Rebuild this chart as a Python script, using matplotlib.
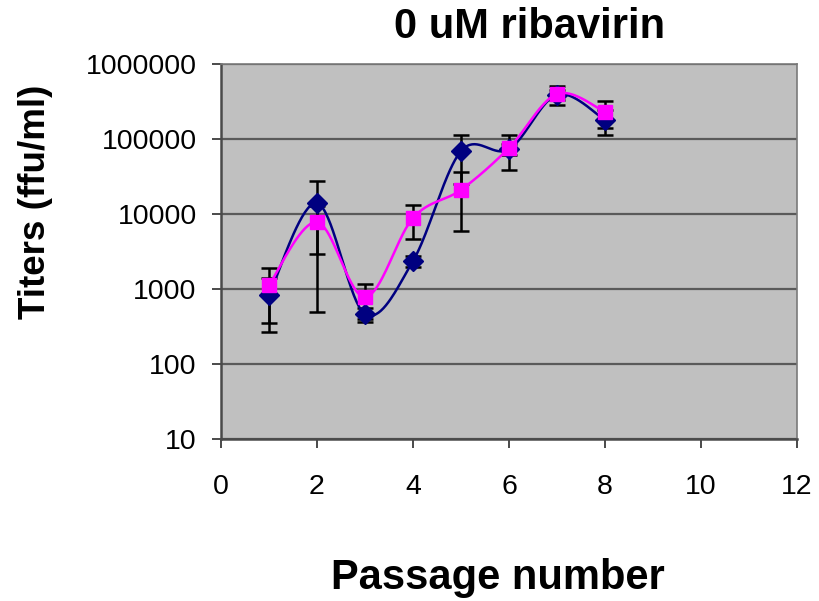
import numpy as np
import matplotlib
matplotlib.use('Agg')
import matplotlib.pyplot as plt
from matplotlib.ticker import FixedLocator, NullLocator

plt.rcParams['font.family'] = ['Liberation Sans', 'DejaVu Sans']

passage = [1, 2, 3, 4, 5, 6, 7, 8]

# titers (ffu/ml) and standard deviations for the two replicates
titer_a = [830, 14000, 464, 2360, 69000, 73000, 390000, 179000]
sd_a = [560, 13500, 100, 400, 44000, 12000, 60000, 65000]
titer_b = [1130, 7800, 780, 8850, 21000, 76000, 398000, 229000]
sd_b = [775, 4870, 386, 4200, 15000, 37000, 111000, 90000]

yticks = [10, 100, 1000, 10000, 100000, 1000000]
xticks = [0, 2, 4, 6, 8, 10, 12]


def smooth(x, y, n=40):
    # Catmull-Rom style smoothing in log space, the way spreadsheet "smoothed lines" look
    x = np.asarray(x, float)
    ly = np.log10(np.asarray(y, float))
    px = np.concatenate([[x[0]], x, [x[-1]]])
    py = np.concatenate([[ly[0]], ly, [ly[-1]]])
    xs, ys = [], []
    t = np.linspace(0, 1, n)
    for i in range(1, len(px) - 2):
        p0 = np.array([px[i], py[i]])
        p3 = np.array([px[i + 1], py[i + 1]])
        c1 = p0 + (p3 - np.array([px[i - 1], py[i - 1]])) / 6.0
        c2 = p3 - (np.array([px[i + 2], py[i + 2]]) - p0) / 6.0
        b = ((1 - t) ** 3)[:, None] * p0 + (3 * (1 - t) ** 2 * t)[:, None] * c1 \
            + (3 * (1 - t) * t ** 2)[:, None] * c2 + (t ** 3)[:, None] * p3
        xs.append(b[:, 0])
        ys.append(b[:, 1])
    return np.concatenate(xs), 10 ** np.concatenate(ys)


fig = plt.figure(figsize=(8.19, 6.01), dpi=100)
ax = fig.add_axes([221 / 819, 1 - 439 / 601, 576 / 819, 375 / 601])
ax.set_facecolor('#c0c0c0')

ax.set_yscale('log')
ax.set_ylim(10, 1000000)
ax.set_xlim(0, 12)

ax.yaxis.set_major_locator(FixedLocator(yticks))
ax.yaxis.set_minor_locator(NullLocator())
ax.set_yticklabels([str(v) for v in yticks])
ax.set_xticks(xticks)
ax.set_xticklabels([str(v) for v in xticks])

ax.grid(axis='y', color='#5a5a5a', lw=1.6, zorder=0)
ax.set_axisbelow(True)

for s in ax.spines.values():
    s.set_color('#7a7a7a')
    s.set_linewidth(1.2)
ax.spines['left'].set_color('#4a4a4a')
ax.spines['bottom'].set_color('#4a4a4a')
ax.spines['left'].set_linewidth(1.8)
ax.spines['bottom'].set_linewidth(1.8)

ax.tick_params(axis='both', direction='out', length=6.5, width=1.4, color='#4a4a4a',
               labelsize=20.5)
ax.tick_params(axis='y', pad=11)
ax.tick_params(axis='x', pad=19)

# error bars
ax.errorbar(passage, titer_b, yerr=sd_b, fmt='none', ecolor='black', elinewidth=1.8,
            capsize=6, capthick=1.8, zorder=3)
ax.errorbar(passage, titer_a, yerr=sd_a, fmt='none', ecolor='black', elinewidth=1.8,
            capsize=6, capthick=1.8, zorder=3)

sx, sy = smooth(passage, titer_a)
ax.plot(sx, sy, color='#000080', lw=1.8, zorder=4)
ax.plot(passage, titer_a, ls='none', marker='D', ms=10.5, color='#000080', zorder=5)

sx, sy = smooth(passage, titer_b)
ax.plot(sx, sy, color='#ff00ff', lw=1.8, zorder=6)
ax.plot(passage, titer_b, ls='none', marker='s', ms=9.5, color='#ff00ff', zorder=7)

fig.text(530 / 819, 1 - 27 / 601, '0 uM ribavirin', ha='center', va='center',
         fontsize=30, fontweight='bold')
fig.text(498 / 819, 1 - 578 / 601, 'Passage number', ha='center', va='center',
         fontsize=30, fontweight='bold')
fig.text(36 / 819, 1 - 202 / 601, 'Titers (ffu/ml)', ha='center', va='center',
         rotation=90, fontsize=26.5, fontweight='bold')

fig.savefig('out.png', dpi=100)
